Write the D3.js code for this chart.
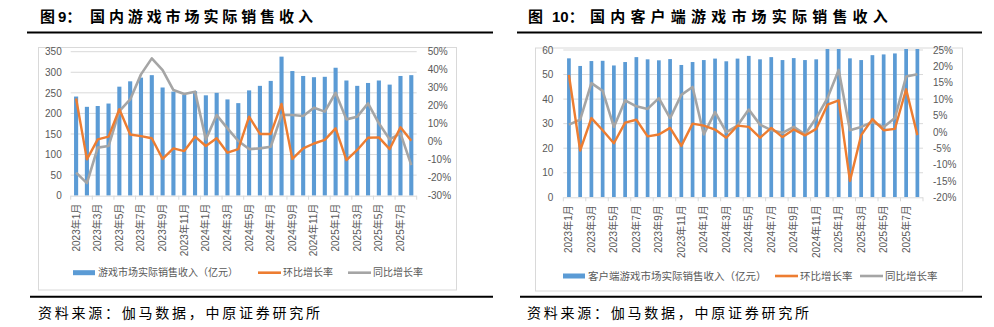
<!DOCTYPE html>
<html><head><meta charset="utf-8">
<script src="https://cdn.jsdelivr.net/npm/d3@7/dist/d3.min.js"></script>
<style>
html,body{margin:0;padding:0;background:#fff;}
svg{display:block;font-family:"Liberation Sans","Noto Sans CJK SC",sans-serif;}
</style></head>
<body>
<svg id="c" width="994" height="327"></svg>
<script>
const months = ["2023年1月","2023年2月","2023年3月","2023年4月","2023年5月","2023年6月","2023年7月","2023年8月","2023年9月","2023年10月","2023年11月","2023年12月",
"2024年1月","2024年2月","2024年3月","2024年4月","2024年5月","2024年6月","2024年7月","2024年8月","2024年9月","2024年10月","2024年11月","2024年12月",
"2025年1月","2025年2月","2025年3月","2025年4月","2025年5月","2025年6月","2025年7月","2025年8月"];

// Panel 1: 国内游戏市场实际销售收入
const gameRevenue = [241,216,218,224,265,278,287,293,263,253,245,254,244,250,234,225,256,267,279,338,303,291,288,289,311,280,267,274,280,270,291,293];
const gameMoM = [24,-9.8,1.3,2.8,18,4,3.1,1.9,-9.6,-3.7,-5.2,2.8,-2.4,1.9,-6.1,-4.1,13.9,4.3,4.3,21,-9.6,-3.7,-1,1,7.4,-10.2,-4.6,2.2,2.4,-4.1,8,0.5];
const gameYoY = [-17.2,-23,-3.3,-2.4,17,23.5,37.4,46.3,39.8,28.7,26.5,27.8,1.3,14.8,7.4,0.4,-4.1,-3.7,-2.8,14.8,14.8,14.3,18.9,16.7,27.2,12.4,13.9,21.3,10.2,1.3,4.6,-13];
const gameLeftTicks = [0,50,100,150,200,250,300,350];
const gameRightTicks = [-30,-20,-10,0,10,20,30,40,50];

// Panel 2: 国内客户端游戏市场实际销售收入
const clientRevenue = [56.6,53.5,55.5,55.6,53.7,55.1,57.1,56.2,55.8,56.3,53.9,55.1,55.9,56.5,55.4,56.5,57.6,56.2,57.1,55.9,56.7,55.9,56.2,60.9,66.6,56.6,55.9,57.9,58.2,58.6,66.4,65.8];
const clientMoM = [17.4,-5.7,4.2,0.5,-3.5,2.8,3.7,-1.4,-0.8,1.2,-4.3,2.5,1.9,0.7,-1.8,1.9,1.5,-1.8,1.2,-1.6,0.7,-1.1,0.9,8.3,9.6,-15,-1,3.9,0.5,0.9,13,-1];
const clientYoY = [2.2,3.7,14.9,12.5,1.5,9.6,7.8,7,10.3,4.2,11.3,13.7,-0.8,6,-0.1,1.9,6.8,2.2,0.5,-0.3,1.5,-0.8,4.2,10.3,18.9,0.5,1.5,3,1.5,4.2,16.9,17.6];
const clientLeftTicks = [0,10,20,30,40,50,60];
const clientRightTicks = [-20,-15,-10,-5,0,5,10,15,20,25];

const seriesNames1 = ["游戏市场实际销售收入（亿元）","环比增长率","同比增长率"];
const seriesNames2 = ["客户端游戏市场实际销售收入（亿元）","环比增长率","同比增长率"];
const colors = {bar:"#5B9BD5", mom:"#ED7D31", yoy:"#A5A5A5", grid:"#D9D9D9", text:"#595959"};

const svg = d3.select("#c");

function panel(cfg){
  const g = svg.append("g");
  // title in three pieces: 图 / number / body
  const tg = g.append("g").attr("font-size",15).attr("font-weight","bold").attr("fill","#000");
  tg.append("text").attr("x",cfg.titleX[0]).attr("y",22).text(cfg.title[0]);
  tg.append("text").attr("x",cfg.titleX[1]).attr("y",22).text(cfg.title[1]);
  tg.append("text").attr("x",cfg.titleX[2]).attr("y",22).attr("letter-spacing",cfg.titleLS).text(cfg.title[2]);
  // rules
  g.append("line").attr("x1",cfg.ruleX1).attr("x2",cfg.ruleX2).attr("y1",32.5).attr("y2",32.5).attr("stroke","#000").attr("stroke-width",2);
  g.append("line").attr("x1",cfg.ruleX1b).attr("x2",cfg.ruleX2).attr("y1",296.8).attr("y2",296.8).attr("stroke","#000").attr("stroke-width",2);
  // source
  g.append("text").attr("x",cfg.srcX).attr("y",318).attr("font-size",14).attr("letter-spacing",2.75)
    .attr("fill","#000").text("资料来源：伽马数据，中原证券研究所");
  // box
  g.append("rect").attr("x",cfg.box[0]).attr("y",cfg.box[1]).attr("width",cfg.box[2]-cfg.box[0]).attr("height",cfg.box[3]-cfg.box[1])
    .attr("fill","#fff").attr("stroke",colors.grid).attr("stroke-width",1);

  const x = d3.scaleBand().domain(months).range([cfg.left,cfg.right]).padding(0);
  const yL = d3.scaleLinear().domain(cfg.leftDomain).range([cfg.bottom,cfg.top]);
  const yR = d3.scaleLinear().domain(cfg.rightDomain).range([cfg.bottom,cfg.top]);
  const cx = m => x(m) + x.bandwidth()/2;

  // gridlines
  g.append("g").selectAll("line").data(cfg.leftTicks.filter(d=>d>cfg.leftDomain[0])).join("line")
    .attr("x1",cfg.left).attr("x2",cfg.right).attr("y1",d=>yL(d)).attr("y2",d=>yL(d))
    .attr("stroke",colors.grid).attr("stroke-width",1);

  // axis labels
  const la = g.append("g").attr("transform",`translate(${cfg.left},0)`)
    .call(d3.axisLeft(yL).tickValues(cfg.leftTicks).tickSize(0).tickPadding(cfg.lpad));
  la.select(".domain").remove();
  la.selectAll("text").attr("font-size",10).attr("fill",colors.text).attr("font-family","Liberation Sans, sans-serif");

  const ra = g.append("g").attr("transform",`translate(${cfg.right},0)`)
    .call(d3.axisRight(yR).tickValues(cfg.rightTicks).tickSize(0).tickPadding(cfg.rpad).tickFormat(d=>d+"%"));
  ra.select(".domain").remove();
  ra.selectAll("text").attr("font-size",10).attr("fill",colors.text).attr("font-family","Liberation Sans, sans-serif");

  // clip
  const cid = "clip"+cfg.id;
  svg.append("defs").append("clipPath").attr("id",cid).append("rect")
    .attr("x",cfg.left).attr("y",cfg.top-1).attr("width",cfg.right-cfg.left).attr("height",cfg.bottom-cfg.top+1);

  // bars
  const bw = x.bandwidth()*cfg.barFrac;
  g.append("g").attr("clip-path",`url(#${cid})`).selectAll("rect").data(cfg.bars).join("rect")
    .attr("x",(d,i)=>cx(months[i])-bw/2).attr("width",bw)
    .attr("y",d=>yL(d)).attr("height",d=>yL(cfg.leftDomain[0])-yL(d))
    .attr("fill",colors.bar);

  // x axis line
  g.append("line").attr("x1",cfg.left).attr("x2",cfg.right).attr("y1",cfg.bottom+0.5).attr("y2",cfg.bottom+0.5)
    .attr("stroke",colors.grid).attr("stroke-width",1);
  const tickIdx = d3.range(0, months.length+1, 2);
  g.append("g").selectAll("line").data(tickIdx).join("line")
    .attr("x1",i=>i<months.length? x(months[i]) : cfg.right)
    .attr("x2",i=>i<months.length? x(months[i]) : cfg.right)
    .attr("y1",cfg.bottom).attr("y2",cfg.bottom+4).attr("stroke",colors.grid).attr("stroke-width",1);

  // x labels
  g.append("g").selectAll("text").data(months.filter((m,i)=>i%2===0)).join("text")
    .attr("transform",m=>`translate(${cx(m)},${cfg.bottom+8}) rotate(-90)`)
    .attr("text-anchor","end").attr("dominant-baseline","central")
    .attr("font-size",10).attr("fill",colors.text).text(m=>m);

  // lines
  const line = d3.line().x((d,i)=>cx(months[i])).y(d=>yR(d));
  g.append("path").datum(cfg.yoy).attr("d",line).attr("fill","none").attr("stroke",colors.yoy).attr("stroke-width",2.6).attr("stroke-linejoin","round");
  g.append("path").datum(cfg.mom).attr("d",line).attr("fill","none").attr("stroke",colors.mom).attr("stroke-width",2.4).attr("stroke-linejoin","round");

  // legend
  const lg = g.append("g").attr("transform",`translate(0,${cfg.legendY})`);
  const items = [
    {name:cfg.names[0], type:"bar", color:colors.bar, x:cfg.legX[0]},
    {name:cfg.names[1], type:"line", color:colors.mom, x:cfg.legX[1]},
    {name:cfg.names[2], type:"line", color:colors.yoy, x:cfg.legX[2]}
  ];
  items.forEach(it=>{
    if(it.type==="bar"){
      lg.append("rect").attr("x",it.x).attr("y",-2.5).attr("width",22).attr("height",5).attr("fill",it.color);
    } else {
      lg.append("line").attr("x1",it.x).attr("x2",it.x+23).attr("y1",0).attr("y2",0).attr("stroke",it.color).attr("stroke-width",2.6);
    }
    lg.append("text").attr("x",it.x+25).attr("y",0).attr("dominant-baseline","central")
      .attr("font-size",cfg.legFont).attr("fill",colors.text).text(it.name);
  });
}

panel({
  id:1, title:["图","9：","国内游戏市场实际销售收入"], titleX:[40,58,90], titleLS:3.9,
  ruleX1:27, ruleX1b:30, ruleX2:493, srcX:38,
  box:[38.5,47.5,456.5,290],
  left:70.7, right:416.7, top:51.7, bottom:195.7,
  leftDomain:[0,350], rightDomain:[-30,50],
  leftTicks:gameLeftTicks, rightTicks:gameRightTicks, lpad:9, rpad:11,
  bars:gameRevenue, mom:gameMoM, yoy:gameYoY, barFrac:0.38,
  names:seriesNames1, legendY:272.7, legX:[73,258,348], legFont:10
});
panel({
  id:2, title:["图","10：","国内客户端游戏市场实际销售收入"], titleX:[528,552,590], titleLS:5.2,
  ruleX1:517, ruleX1b:520, ruleX2:982, srcX:527,
  box:[535.5,48,962.5,291],
  left:563.3, right:923, top:50, bottom:197.3,
  leftDomain:[0,60], rightDomain:[-20,25],
  leftTicks:clientLeftTicks, rightTicks:clientRightTicks, lpad:10, rpad:10,
  bars:clientRevenue, mom:clientMoM, yoy:clientYoY, barFrac:0.33,
  names:seriesNames2, legendY:276, legX:[563,775,860], legFont:10.5
});
</script>
</body></html>
